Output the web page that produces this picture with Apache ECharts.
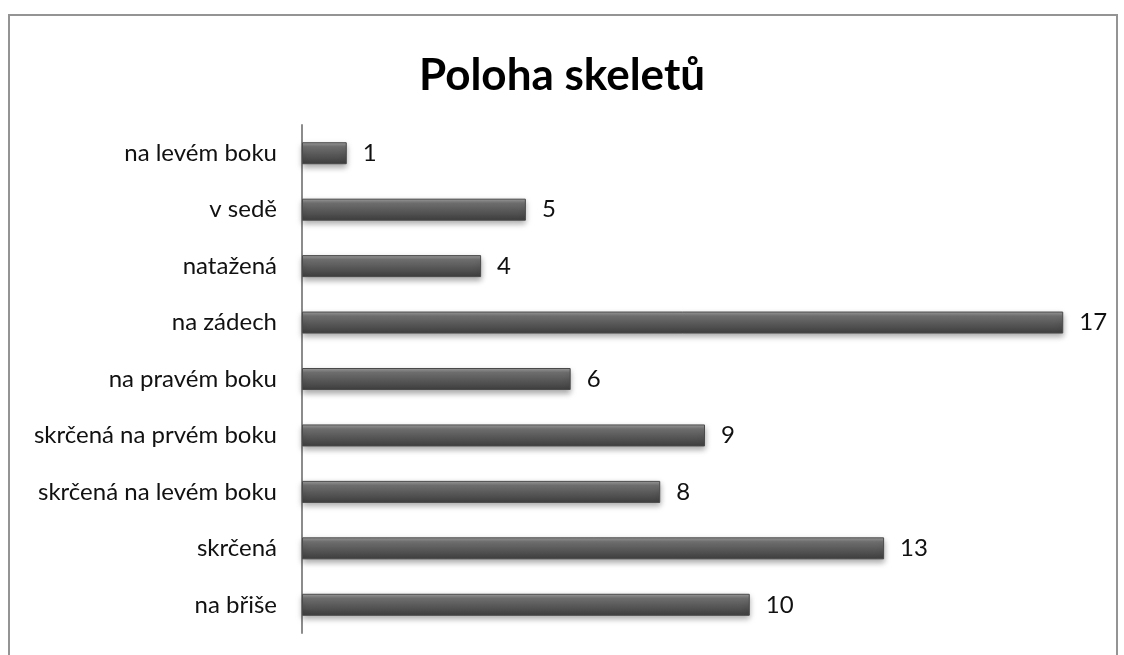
<!DOCTYPE html>
<html>
<head>
<meta charset="utf-8">
<script src="https://cdn.jsdelivr.net/npm/echarts@6/dist/echarts.min.js"></script>
<style>
  html, body { margin: 0; padding: 0; background: #fff; }
  #chart { width: 1124px; height: 655px; }
</style>
</head>
<body>
<div id="chart"></div>
<script>
// categories listed bottom to top (category axis starts at the bottom)
const categories = [
    "na břiše",
    "skrčená",
    "skrčená na levém boku",
    "skrčená na prvém boku",
    "na pravém boku",
    "na zádech",
    "natažená",
    "v sedě",
    "na levém boku"
];
const values = [10, 13, 8, 9, 6, 17, 4, 5, 1];

const chart = echarts.init(document.getElementById("chart"));

const barColor = new echarts.graphic.LinearGradient(0, 0, 0, 1, [
    { offset: 0, color: "#a0a0a0" },
    { offset: 0.2, color: "#727272" },
    { offset: 0.55, color: "#585858" },
    { offset: 1, color: "#3e3e3e" }
]);

chart.setOption({
    animation: false,
    title: {
        text: "Poloha skeletů",
        left: "center",
        top: 49,
        textStyle: {
            fontFamily: "Lato",
            fontWeight: "bold",
            fontSize: 44,
            color: "#000"
        }
    },
    graphic: [{
        type: "polyline",
        shape: { points: [[9, 655], [9, 15], [1117, 15], [1117, 655]] },
        style: { stroke: "#949494", lineWidth: 2, fill: null }
    }],
    grid: {
        left: 302,
        right: 16,
        top: 125,
        bottom: 22
    },
    xAxis: {
        type: "value",
        min: 0,
        max: 18,
        show: false
    },
    yAxis: {
        type: "category",
        data: categories,
        axisLine: { lineStyle: { color: "#8c8c8c", width: 2 } },
        axisTick: { show: false },
        axisLabel: {
            margin: 25,
            fontFamily: "Lato",
            fontSize: 24,
            color: "#111"
        }
    },
    series: [{
        type: "bar",
        data: values,
        barWidth: 22,
        itemStyle: {
            color: barColor,
            borderColor: "#4a4a4a",
            borderWidth: 1,
            shadowColor: "rgba(0,0,0,0.35)",
            shadowBlur: 6,
            shadowOffsetY: 3
        },
        label: {
            show: true,
            position: "right",
            distance: 16,
            fontFamily: "Lato",
            fontSize: 24,
            color: "#111"
        }
    }]
});
</script>
</body>
</html>
